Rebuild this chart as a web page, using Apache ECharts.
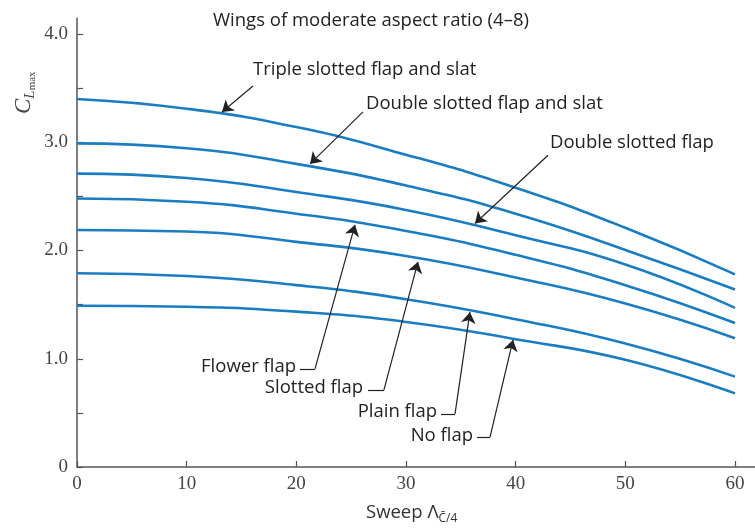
<!DOCTYPE html>
<html>
<head>
<meta charset="utf-8">
<script src="https://cdn.jsdelivr.net/npm/echarts@6/dist/echarts.min.js"></script>
<style>
html, body { margin: 0; padding: 0; background: #fff; }
#chart { width: 755px; height: 530px; }
</style>
</head>
<body>
<div id="chart"></div>
<script>
// sweep angle (deg)
const sweep = [0, 10, 20, 30, 40, 50, 60];
// CLmax, one array per device
const tripleSlat = [3.40, 3.31, 3.14, 2.885, 2.58, 2.21, 1.78];
const doubleSlat = [2.99, 2.945, 2.80, 2.60, 2.34, 2.005, 1.64];
const doubleSlot = [2.71, 2.67, 2.54, 2.375, 2.14, 1.87, 1.47];
const flowerFlap = [2.48, 2.45, 2.34, 2.18, 1.96, 1.68, 1.33];
const slottedFlap = [2.19, 2.175, 2.08, 1.95, 1.75, 1.51, 1.19];
const plainFlap = [1.79, 1.765, 1.68, 1.55, 1.365, 1.14, 0.835];
const noFlap = [1.49, 1.48, 1.435, 1.34, 1.18, 0.99, 0.68];

const curves = [tripleSlat, doubleSlat, doubleSlot, flowerFlap, slottedFlap, plainFlap, noFlap];
const names = [
  "Triple slotted flap and slat",
  "Double slotted flap and slat",
  "Double slotted flap",
  "Flower flap",
  "Slotted flap",
  "Plain flap",
  "No flap",
];

// label anchor / arrow start / arrow tip, in data units
const labelAt = [[15.96, 3.67], [26.26, 3.355], [43.04, 3.0], [20.06, 0.925], [26.17, 0.73], [32.92, 0.51], [36.2, 0.29]];
const labelSide = ["right", "right", "right", "left", "left", "left", "left"];
const arrowFrom = [[16.05, 3.52], [26.08, 3.28], [42.95, 2.88], [21.70, 0.906], [27.99, 0.712], [34.47, 0.49], [37.66, 0.277]];
const arrowTo = [[13.22, 3.28], [21.25, 2.80], [36.29, 2.25], [25.35, 2.237], [31.09, 1.895], [35.83, 1.43], [39.76, 1.174]];
const elbowX = [null, null, null, 20.33, 26.53, 33.19, 36.47];

const blue = "#1a7dc2";
const axisGrey = "#555";
const textFont = "Open Sans";
const numFont = "Liberation Serif";

const series = curves.map((vals, i) => {
  const lines = [[
    { coord: arrowFrom[i], symbol: "none" },
    { coord: arrowTo[i], symbol: "arrow" },
  ]];
  if (elbowX[i] !== null) {
    lines.push([
      { coord: [elbowX[i], arrowFrom[i][1]], symbol: "none" },
      { coord: arrowFrom[i], symbol: "none" },
    ]);
  }
  return {
    type: "line",
    name: names[i],
    data: sweep.map((x, j) => [x, vals[j]]),
    smooth: 0.5,
    showSymbol: false,
    lineStyle: { width: 2.6, color: blue },
    z: 3,
    markLine: {
      silent: true,
      animation: false,
      symbolSize: 11,
      label: { show: false },
      lineStyle: { color: "#222", width: 1.2, type: "solid" },
      data: lines,
    },
    markPoint: {
      silent: true,
      animation: false,
      symbol: "circle",
      symbolSize: 0,
      data: [{ coord: labelAt[i] }],
      label: {
        show: true,
        position: labelSide[i],
        distance: 1,
        formatter: names[i],
        color: "#222",
        fontFamily: textFont,
        fontSize: 18.5,
      },
    },
  };
});

const option = {
  animation: false,
  backgroundColor: "#fff",
  grid: [
    { left: 77, right: 20, top: 34, bottom: 63 },
    // only for the axis lines, which run past the data range
    { left: 77, right: 0, top: 18, bottom: 63 },
  ],
  xAxis: [
    {
      type: "value",
      gridIndex: 0,
      min: 0,
      max: 60,
      interval: 10,
      axisLine: { show: false },
      axisTick: { show: true, inside: true, length: 6, lineStyle: { color: axisGrey, width: 1.2 } },
      splitLine: { show: false },
      axisLabel: { color: "#444", fontFamily: numFont, fontSize: 19, margin: 8 },
    },
    {
      type: "value",
      gridIndex: 1,
      min: 0,
      max: 1,
      axisLine: { show: true, lineStyle: { color: axisGrey, width: 1.5 } },
      axisTick: { show: false },
      axisLabel: { show: false },
      splitLine: { show: false },
    },
  ],
  yAxis: [
    {
      type: "value",
      gridIndex: 0,
      min: 0,
      max: 4,
      interval: 0.5,
      axisLine: { show: false },
      axisTick: { show: true, inside: true, length: 6, lineStyle: { color: axisGrey, width: 1.2 } },
      splitLine: { show: false },
      axisLabel: {
        color: "#444",
        fontFamily: numFont,
        fontSize: 19,
        margin: 9,
        formatter: (v) => (v === 0 ? "0" : v % 1 === 0 ? v.toFixed(1) : ""),
      },
    },
    {
      type: "value",
      gridIndex: 1,
      min: 0,
      max: 1,
      axisLine: { show: true, lineStyle: { color: axisGrey, width: 1.5 } },
      axisTick: { show: false },
      axisLabel: { show: false },
      splitLine: { show: false },
    },
  ],
  graphic: [
    {
      type: "text",
      left: 213,
      top: 11,
      style: { text: "Wings of moderate aspect ratio (4–8)", fill: "#222", font: "18.5px 'Open Sans'" },
    },
    {
      type: "text",
      x: 10,
      y: 114,
      rotation: Math.PI / 2,
      style: {
        text: "{c|C}{l|L}{m|max}",
        rich: {
          c: { fontFamily: numFont, fontStyle: "italic", fontSize: 23, lineHeight: 28, fill: "#444" },
          l: { fontFamily: numFont, fontStyle: "italic", fontSize: 15, lineHeight: 16, verticalAlign: "bottom", fill: "#444" },
          m: { fontFamily: numFont, fontSize: 11, lineHeight: 7, verticalAlign: "bottom", fill: "#444" },
        },
      },
    },
    {
      type: "text",
      left: 366,
      top: 503,
      style: {
        text: "{a|Sweep Λ}{s|C\u0304/4}",
        rich: {
          a: { fontFamily: textFont, fontSize: 18.5, lineHeight: 24, fill: "#333" },
          s: { fontFamily: textFont, fontSize: 12, lineHeight: 10, verticalAlign: "bottom", fill: "#333" },
        },
      },
    },
  ],
  series: series,
};

const chartObj = echarts.init(document.getElementById("chart"));
chartObj.setOption(option);
window.onresize = chartObj.resize;
</script>
</body>
</html>
